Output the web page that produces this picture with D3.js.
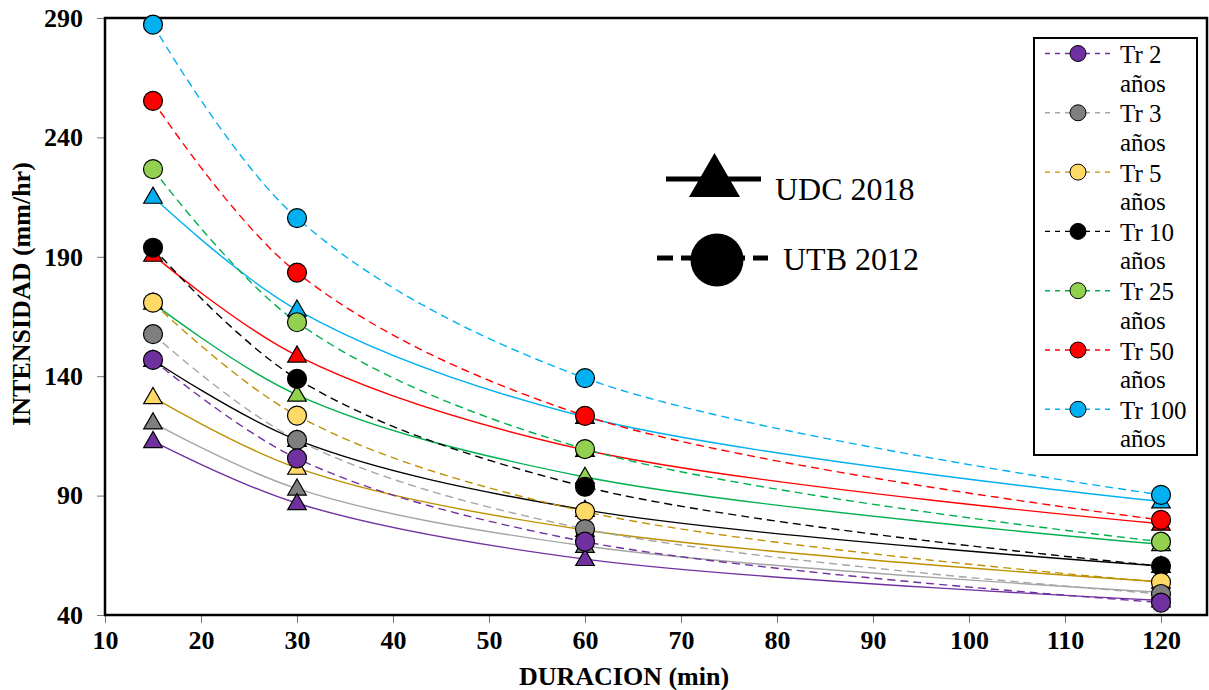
<!DOCTYPE html>
<html>
<head>
<meta charset="utf-8">
<script src="https://cdn.jsdelivr.net/npm/d3@7"></script>
<style>
  body { margin: 0; background: #fff; }
  svg { display: block; }
  svg text { font-family: "Liberation Serif", "Times New Roman", serif !important; fill: #000; }
</style>
</head>
<body>
<svg width="1209" height="690"></svg>
<script>
// durations (min)
const duracion = [15, 30, 60, 120];
const periodos = ['Tr 2', 'Tr 3', 'Tr 5', 'Tr 10', 'Tr 25', 'Tr 50', 'Tr 100'];

// UTB 2012 (circles, dashed)
const utb2 = [146.8, 105.6, 70.7, 45.2];
const utb3 = [157.6, 113.3, 76.0, 48.8];
const utb5 = [170.8, 123.5, 83.3, 53.7];
const utb10 = [193.8, 138.9, 93.7, 60.5];
const utb25 = [226.7, 162.6, 109.5, 70.7];
const utb50 = [255.3, 183.4, 123.4, 79.8];
const utb100 = [287.2, 206.2, 139.2, 90.3];

// UDC 2018 (triangles, solid)
const udc2 = [112.8, 86.8, 63.4, 46.1];
const udc3 = [120.6, 92.9, 68.9, 49.5];
const udc5 = [131.2, 101.6, 75.6, 53.9];
const udc10 = [146.8, 113.3, 84.0, 60.5];
const udc25 = [170.7, 132.2, 97.8, 69.6];
const udc50 = [190.8, 148.6, 109.1, 78.2];
const udc100 = [215.1, 167.8, 122.9, 87.5];

const xTicks = [10, 20, 30, 40, 50, 60, 70, 80, 90, 100, 110, 120];
const yTicks = [40, 90, 140, 190, 240, 290];

const lineColors = ['#7030A0', '#A5A5A5', '#BF9000', '#000000', '#00B050', '#FF0000', '#00B0F0'];
const markColors = ['#7030A0', '#7F7F7F', '#FFD966', '#000000', '#92D050', '#FF0000', '#00B0F0'];

const utb = [utb2, utb3, utb5, utb10, utb25, utb50, utb100];
const udc = [udc2, udc3, udc5, udc10, udc25, udc50, udc100];

const svg = d3.select('svg');
const pLeft = 105, pRight = 1207, pTop = 18, pBottom = 615;

const x = d3.scaleLinear().domain([10, 120]).range([pLeft, 1161]);
const y = d3.scaleLinear().domain([40, 290]).range([pBottom, pTop]);

// axes
const xAxis = svg.append('g')
    .attr('transform', `translate(0,${pBottom})`)
    .call(d3.axisBottom(x).tickValues(xTicks).tickSize(8).tickPadding(8));
const yAxis = svg.append('g')
    .attr('transform', `translate(${pLeft},0)`)
    .call(d3.axisLeft(y).tickValues(yTicks).tickSize(8).tickPadding(14));
[xAxis, yAxis].forEach(a => {
    a.attr('font-family', null);
    a.select('.domain').remove();
    a.selectAll('.tick line').attr('stroke', '#777').attr('stroke-width', 1);
    a.selectAll('.tick text')
        .attr('font-size', 26).attr('font-weight', 'bold');
});

// frame
svg.append('rect')
    .attr('x', pLeft).attr('y', pTop)
    .attr('width', pRight - pLeft).attr('height', pBottom - pTop)
    .attr('fill', 'none').attr('stroke', '#000').attr('stroke-width', 2.5);

// titles
svg.append('text')
    .attr('x', 624).attr('y', 685)
    .attr('text-anchor', 'middle')
    .attr('font-size', 26).attr('font-weight', 'bold')
    .text('DURACION (min)');
svg.append('text')
    .attr('transform', 'translate(30,294) rotate(-90)')
    .attr('text-anchor', 'middle')
    .attr('font-size', 26).attr('font-weight', 'bold')
    .text('INTENSIDAD (mm/hr)');

const line = d3.line()
    .x((d, i) => x(duracion[i]))
    .y(d => y(d))
    .curve(d3.curveCatmullRom);

// lines
udc.forEach((s, i) => {
    svg.append('path').attr('d', line(s))
        .attr('fill', 'none').attr('stroke', lineColors[i]).attr('stroke-width', 1.4);
});
utb.forEach((s, i) => {
    svg.append('path').attr('d', line(s))
        .attr('fill', 'none').attr('stroke', lineColors[i]).attr('stroke-width', 1.4)
        .attr('stroke-dasharray', '8,5');
});

// triangles
const tri = d3.symbol().type(d3.symbolTriangle).size(150);
udc.slice().reverse().forEach((s, k) => {
    const i = udc.length - 1 - k;
    svg.append('g').selectAll('path').data(s).enter()
        .append('path')
        .attr('d', tri)
        .attr('transform', (d, j) => `translate(${x(duracion[j])},${y(d) + 1})`)
        .attr('fill', markColors[i]).attr('stroke', '#000').attr('stroke-width', 1.2);
});

// circles
utb.slice().reverse().forEach((s, k) => {
    const i = utb.length - 1 - k;
    svg.append('g').selectAll('circle').data(s).enter()
        .append('circle')
        .attr('cx', (d, j) => x(duracion[j]))
        .attr('cy', d => y(d))
        .attr('r', 9.5)
        .attr('fill', markColors[i]).attr('stroke', '#000').attr('stroke-width', 1.2);
});

// inner legend (source)
const src = svg.append('g');
src.append('line').attr('x1', 666).attr('x2', 761).attr('y1', 179).attr('y2', 179)
    .attr('stroke', '#000').attr('stroke-width', 5);
src.append('path').attr('d', 'M714.5,153 L740,197 L689,197 Z').attr('fill', '#000');
src.append('text').attr('x', 775).attr('y', 200).attr('font-size', 32).text('UDC 2018');
src.append('line').attr('x1', 657).attr('x2', 768).attr('y1', 258).attr('y2', 258)
    .attr('stroke', '#000').attr('stroke-width', 5).attr('stroke-dasharray', '16,8');
src.append('circle').attr('cx', 717).attr('cy', 260).attr('r', 26.5).attr('fill', '#000');
src.append('text').attr('x', 783).attr('y', 270).attr('font-size', 32).text('UTB 2012');

// series legend
const leg = svg.append('g');
leg.append('rect').attr('x', 1034).attr('y', 38).attr('width', 163).attr('height', 417)
    .attr('fill', '#fff').attr('stroke', '#000').attr('stroke-width', 2);
periodos.forEach((p, i) => {
    const cy = 53.5 + i * 59.3;
    leg.append('line').attr('x1', 1045).attr('x2', 1111).attr('y1', cy).attr('y2', cy)
        .attr('stroke', lineColors[i]).attr('stroke-width', 1.4).attr('stroke-dasharray', '5,5');
    leg.append('circle').attr('cx', 1078).attr('cy', cy).attr('r', 8)
        .attr('fill', markColors[i]).attr('stroke', '#000').attr('stroke-width', 1);
    leg.append('text').attr('x', 1120).attr('y', cy + 9.5).attr('font-size', 25).text(p);
    leg.append('text').attr('x', 1120).attr('y', cy + 38).attr('font-size', 25).text('años');
});
</script>
</body>
</html>
